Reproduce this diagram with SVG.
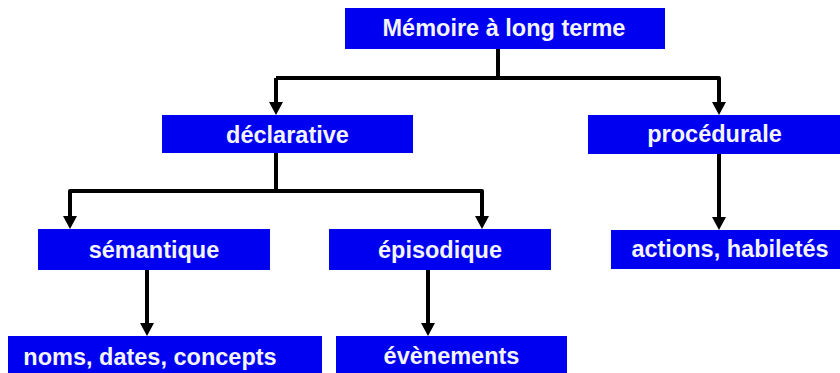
<svg xmlns="http://www.w3.org/2000/svg" width="840" height="373" viewBox="0 0 840 373">
<style>
.box{fill:#0000f0;}
.lbl{font-family:"Liberation Sans",Arial,sans-serif;font-weight:bold;font-size:23.5px;fill:#f4f4ff;text-anchor:middle;}
.con{fill:none;stroke:#000;stroke-width:4;stroke-linejoin:round;}
.arr{marker-end:url(#ah);}
</style>
<defs>
<marker id="ah" markerUnits="userSpaceOnUse" markerWidth="14" markerHeight="14" viewBox="0 0 14 14" refX="3" refY="7" orient="auto">
<path d="M0,0 L13,7 L0,14 Z" fill="#000"/>
</marker>
</defs>
<rect width="840" height="373" fill="#fff"/>
<g id="connectors">
<path class="con" d="M498,49 V78"/>
<path class="con arr" d="M276,78 V105"/>
<path class="con arr" d="M276,78 H719 V105"/>
<path class="con" d="M276,153 V191"/>
<path class="con arr" d="M276,191 H70 V219"/>
<path class="con arr" d="M276,191 H482 V219"/>
<path class="con arr" d="M147,270 V326"/>
<path class="con arr" d="M428,270 V326"/>
<path class="con arr" d="M719,154 V220"/>
</g>
<g id="n-memoire"><rect class="box" x="345" y="8" width="320" height="41"/><text class="lbl" x="504" y="36">Mémoire à long terme</text></g>
<g id="n-declarative"><rect class="box" x="162" y="115" width="251" height="38"/><text class="lbl" x="287.5" y="142.5">déclarative</text></g>
<g id="n-procedurale"><rect class="box" x="588" y="115" width="252" height="39"/><text class="lbl" x="714.5" y="141.5">procédurale</text></g>
<g id="n-semantique"><rect class="box" x="38" y="229" width="232" height="41"/><text class="lbl" x="154" y="258">sémantique</text></g>
<g id="n-episodique"><rect class="box" x="329" y="229" width="222" height="41"/><text class="lbl" x="440" y="258">épisodique</text></g>
<g id="n-actions"><rect class="box" x="611" y="230" width="229" height="39"/><text class="lbl" x="730" y="257">actions, habiletés</text></g>
<g id="n-noms"><rect class="box" x="8" y="336" width="314" height="40"/><text class="lbl" x="150" y="365">noms, dates, concepts</text></g>
<g id="n-evenements"><rect class="box" x="336" y="336" width="231" height="40"/><text class="lbl" x="451.5" y="364">évènements</text></g>
</svg>
